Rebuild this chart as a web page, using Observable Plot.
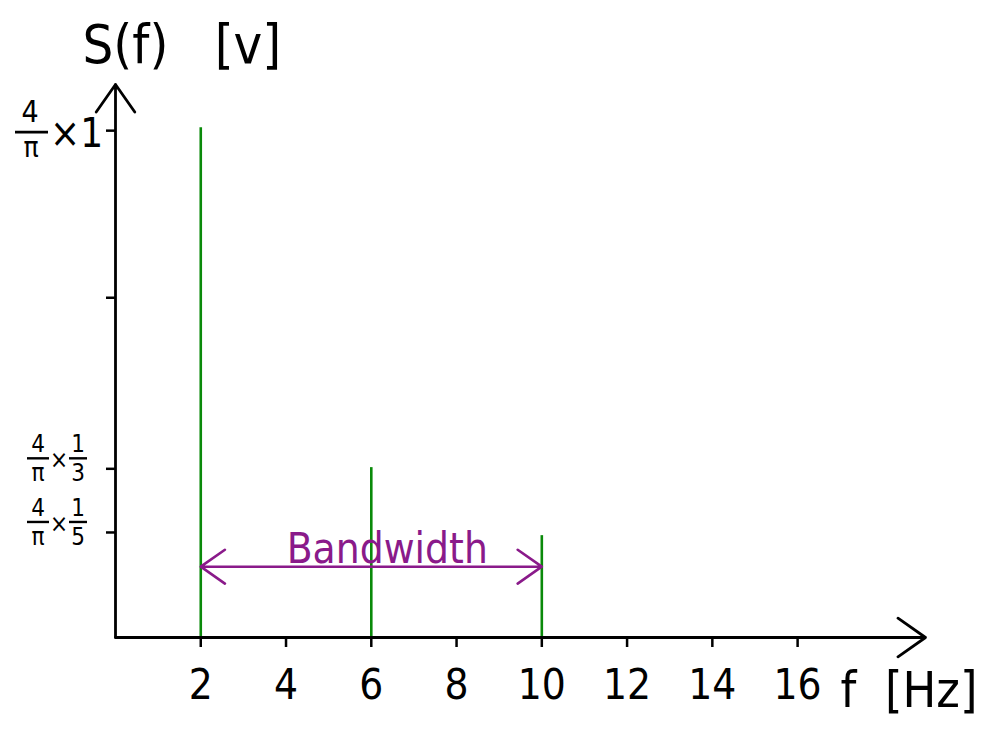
<!DOCTYPE html>
<html><head><meta charset="utf-8">
<script src="https://cdn.jsdelivr.net/npm/d3@7"></script>
<script src="https://cdn.jsdelivr.net/npm/@observablehq/plot@0.6"></script>
<style>body{margin:0;background:#fff}</style>
</head><body><div id="chart"></div>
<script>
// ---- data ----
const harmonicFreq = [2, 6, 10];
const harmonicAmp = [1.281, 0.427, 0.256];
const xTicks = [2, 4, 6, 8, 10, 12, 14, 16];
const yTickValues = [1.274, 0.854, 0.424, 0.264];
const yTickNum = ["4", "", "4", "4"];
const yTickDen = ["π", "", "π", "π"];
const yTickMulNum = ["1", "", "1", "1"];
const yTickMulDen = ["", "", "3", "5"];
const xMax = 19;
const yMax = 1.39;
const bandEdges = [2, 10];
const bandLevel = 0.178;
const bandLabel = "Bandwidth";
const yLabel = "S(f)\u00a0\u00a0\u00a0[v]";
const xLabel = "f\u00a0\u00a0[Hz]";

const FONT = "'Liberation Sans Narrow', 'DejaVu Sans Condensed', sans-serif";
const INK = "#000";
const GREEN = "#0a8a0a";
const PURPLE = "#8a1a8a";

const harmonics = harmonicFreq.map((f, i) => ({f, a: harmonicAmp[i]}));
const bandMid = d3.mean(bandEdges);
const bandArrows = bandEdges.map(e => ({from: bandMid, to: e}));

function fractionLabels(index, scales) {
  const g = d3.create("svg:g").attr("font-family", FONT).attr("fill", INK)
    .attr("dominant-baseline", "central").attr("text-anchor", "middle");
  const x0 = scales.x(0);
  yTickValues.forEach((v, i) => {
    if (!yTickNum[i]) return;
    const y = scales.y(v);
    if (!yTickMulDen[i]) {
      // big label: 4/π × 1
      g.append("text").attr("x", x0 - 85).attr("y", y - 19).attr("font-size", 30).text(yTickNum[i]);
      g.append("line").attr("x1", x0 - 100).attr("x2", x0 - 67).attr("y1", y + 2).attr("y2", y + 2)
        .attr("stroke", INK).attr("stroke-width", 2.8);
      g.append("text").attr("x", x0 - 84).attr("y", y + 17).attr("font-size", 28).text(yTickDen[i]);
      g.append("text").attr("x", x0 - 65).attr("y", y + 3).attr("font-size", 40)
        .attr("text-anchor", "start").text("×" + yTickMulNum[i]);
    } else {
      const fs = 24;
      g.append("text").attr("x", x0 - 77).attr("y", y - 24).attr("font-size", fs).text(yTickNum[i]);
      g.append("line").attr("x1", x0 - 88).attr("x2", x0 - 66).attr("y1", y - 10).attr("y2", y - 10)
        .attr("stroke", INK).attr("stroke-width", 2.4);
      g.append("text").attr("x", x0 - 77).attr("y", y + 5).attr("font-size", fs).text(yTickDen[i]);
      g.append("text").attr("x", x0 - 56).attr("y", y - 8).attr("font-size", fs).text("×");
      g.append("text").attr("x", x0 - 37).attr("y", y - 24).attr("font-size", fs).text(yTickMulNum[i]);
      g.append("line").attr("x1", x0 - 46).attr("x2", x0 - 28).attr("y1", y - 10).attr("y2", y - 10)
        .attr("stroke", INK).attr("stroke-width", 2.4);
      g.append("text").attr("x", x0 - 37).attr("y", y + 5).attr("font-size", fs).text(yTickMulDen[i]);
    }
  });
  return g.node();
}

const chart = Plot.plot({
  width: 996,
  height: 732,
  marginLeft: 115,
  marginRight: 71,
  marginTop: 84,
  marginBottom: 95,
  x: {domain: [0, xMax]},
  y: {domain: [0, yMax]},
  style: {fontFamily: FONT, background: "white", color: INK},
  marks: [
    Plot.ruleX(harmonics, {x: "f", y1: 0, y2: "a", stroke: GREEN, strokeWidth: 2.6}),
    Plot.axisX({ticks: xTicks, tickSize: 10, tickPadding: 22, fontSize: 42, tickFormat: d => String(d),
      label: null, strokeWidth: 2.5}),
    Plot.axisY({ticks: yTickValues, tickSize: 9, tickFormat: () => "", label: null, strokeWidth: 2.5}),
    Plot.arrow([{x1: 0, y1: 0, x2: xMax, y2: 0}], {x1: "x1", y1: "y1", x2: "x2", y2: "y2",
      stroke: INK, strokeWidth: 2.8, headLength: 18, headAngle: 70}),
    Plot.arrow([{x1: 0, y1: 0, x2: 0, y2: yMax}], {x1: "x1", y1: "y1", x2: "x2", y2: "y2",
      stroke: INK, strokeWidth: 2.8, headLength: 18, headAngle: 70}),
    Plot.arrow(bandArrows, {x1: "from", x2: "to", y1: () => bandLevel, y2: () => bandLevel,
      stroke: PURPLE, strokeWidth: 2.6, headLength: 17, headAngle: 70}),
    Plot.text([bandLabel], {x: () => bandMid, y: () => bandLevel, text: d => d, dx: 16, dy: -4,
      lineAnchor: "bottom", fontSize: 42, fill: PURPLE}),
    Plot.text([yLabel], {frameAnchor: "top-left", text: d => d, dx: -33, dy: -39, textAnchor: "start",
      lineAnchor: "middle", fontSize: 54, fill: INK}),
    Plot.text([xLabel], {frameAnchor: "bottom-right", text: d => d, dx: -85, dy: 53, textAnchor: "start",
      lineAnchor: "middle", fontSize: 50, fill: INK}),
    fractionLabels
  ]
});
document.getElementById("chart").append(chart);
</script>
</body></html>
